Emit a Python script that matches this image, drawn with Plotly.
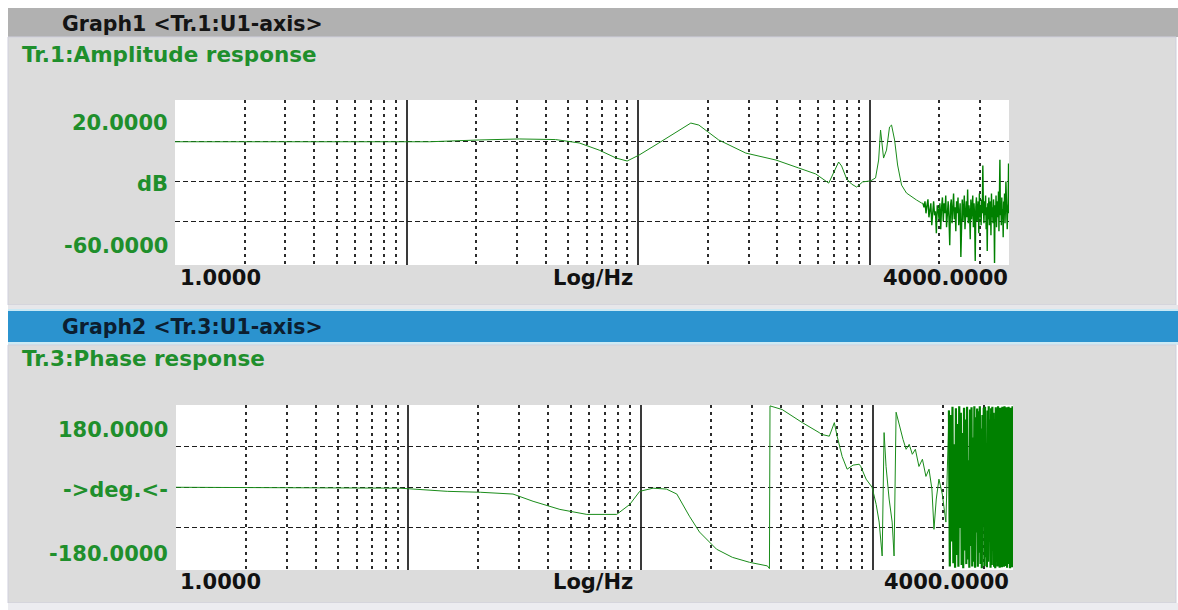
import numpy as np
import plotly.graph_objects as go

W, H = 1178, 610

# ---- Tr.1: amplitude response (dB over log frequency) ----
amp_freq = [1, 3, 10, 12.6, 20.6, 30.7, 44, 55.7, 67.9, 80.4, 89.7, 101, 123, 150, 169,
            183, 223, 292, 394, 494, 585, 666, 707, 735, 757, 796, 836, 879, 933, 1009,
            1061, 1094, 1115, 1149, 1183, 1219, 1244, 1282, 1321, 1374, 1443, 1517,
            1594, 1675]
amp_db = [0.0, 0.0, 0.0, 0.0, 0.9, 1.4, 1.1, -0.6, -4.2, -8.2, -9.7, -6.7, -0.6, 5.4, 9.4,
          8.4, 0.9, -5.7, -9.2, -13.2, -16.2, -20.8, -14.2, -10.2, -12.2, -18.7, -21.3,
          -22.8, -20.2, -19.7, -18.2, -9.2, 5.9, -8.2, -4.2, 7.4, 8.4, 0.9, -11.7, -21.8,
          -25.8, -27.8, -29.3, -30.8]
# high-frequency end of the amplitude trace (measurement noise)
amp_noise_db = [-31, -33, -30, -36, -32, -29, -38, -34, -31, -42, -33, -30, -37, -35, -46,
                -32, -34, -39, -31, -44,
                -33, -28, -40, -31, -36, -27, -43, -34, -30, -38, -52, -32, -29, -41, -35,
                -26, -39, -33, -45, -30, -36, -28, -42, -34, -31, -58, -37, -29, -40, -33,
                -27, -44, -35, -30, -38, -24, -41, -32, -36, -49, -29, -39, -34, -27, -43,
                -31, -37, -60, -33, -28, -40, -35, -30, -46, -26, -38, -32, -42, -29, -36,
                -12, -34, -41, -30, -37, -27, -44, -33, -55, -31, -39, -28, -42, -35, -30,
                -47, -26, -38, -33, -41, -29, -36, -61, -32, -40, -27, -43, -34, -30, -38,
                -25, -45, -33, -9, -37, -31, -42, -28, -39, -34, -48, -30, -36, -26, -41,
                -33, -20, -38, -29, -44, -35, -31, -11, -36]
amp_noise_freq = np.linspace(1700, 4000, len(amp_noise_db))

# ---- Tr.3: phase response (deg over log frequency) ----
ph_freq = [1, 9.2, 14.7, 20.4, 28.2, 34.4, 44.9, 58.6, 78.8, 89.7, 99, 113, 129, 143, 162,
           179, 212, 248, 294, 351, 358, 360, 406, 496, 586, 600, 648, 665, 681, 700, 736,
           773, 820, 871, 885, 933, 990, 1031, 1062, 1094, 1115, 1137, 1172, 1208, 1231,
           1256, 1294, 1345, 1387, 1430, 1475, 1520, 1575, 1630, 1688, 1740, 1791, 1828,
           1870, 1920, 1985, 2057]
ph_deg = [0, -2, -9, -11, -15, -31, -49, -60, -60, -38, -9, -2, -4, -15, -64,
          -99, -137, -155, -166, -174, -180, 180, 172, 143, 121, 117, 113, 128, 143, 113, 68,
          40, 49, 51, 46, 18, 0, -38, -77, -152, 121, 46, -26, -77, -152,
          166, 139, 106, 84, 95, 73, 84, 46, 62, 24, 40, -4, -93,
          -26, 18, -15, -77]
ph_noise_deg = [170, -175, 160, -120, 178, -168, 95, -178, 175, -150, 140, -176, 179, -90,
                165, -172, 120, -179, 176, -140, 150, -170, 178, -160, 60, -178, 172, -130,
                177, -175, 110, -165, 179, -178, 155, -100, 174, -176, 168, -145, 179, -170,
                130, -179, 160, -60, 176, -174, 178, -155, 90, -177, 170, -165, 179, -120,
                150, -178, 175, -172, 178, -140, 165, -176, 40, -179, 177, -160, 172, -175,
                179, -110, 160, -178, 176, -168, 120, -177, 178, -150, 170, -176, 179, -174,
                145, -130, 177, -178, 165, -170, 178, -165, 100, -179, 176, -158, 174, -177,
                179, -150]
ph_noise_freq = np.linspace(2120, 4000, len(ph_noise_deg))

# axis texts
amp_ylabels = ["20.0000", "dB", "-60.0000"]
ph_ylabels = ["180.0000", "->deg.<-", "-180.0000"]
x_labels = ["1.0000", "Log/Hz", "4000.0000"]

decades = [10, 100, 1000]
sub_decades = [m * d for d in [1, 10, 100] for m in range(2, 10)] + [2000, 3000]

GREEN_LINE = "#1a8c1a"
GREEN_NOISE = "#008000"
GREEN_TEXT = "#1f8f2c"
FONT = "DejaVu Sans"


def px(x):
    return x / W


def py(y):
    return 1 - y / H


fig = go.Figure()


def add_line(xs, ys, xa, ya, color, width):
    fig.add_trace(go.Scatter(x=list(xs), y=list(ys), mode="lines",
                             line=dict(color=color, width=width), xaxis=xa, yaxis=ya,
                             showlegend=False, hoverinfo="skip"))


add_line(amp_freq + [amp_noise_freq[0]], amp_db + [amp_noise_db[0]], "x", "y",
         GREEN_LINE, 1)
add_line(amp_noise_freq, amp_noise_db, "x", "y", GREEN_NOISE, 1.4)
add_line(ph_freq + [ph_noise_freq[0]], ph_deg + [ph_noise_deg[0]], "x2", "y2",
         GREEN_LINE, 1)
add_line(ph_noise_freq, ph_noise_deg, "x2", "y2", GREEN_NOISE, 2.2)


def xaxis_cfg(x0, x1, anchor):
    return dict(type="log", range=[0, np.log10(4000)], domain=[px(x0), px(x1)],
                anchor=anchor, tickmode="array", tickvals=decades, showticklabels=False,
                ticks="", showgrid=True, gridcolor="#3a3a3a", gridwidth=2, zeroline=False,
                showline=False,
                minor=dict(tickmode="array", tickvals=sub_decades, showgrid=True,
                           gridcolor="#2c2c2c", gridwidth=1.5, griddash="3px,4px",
                           ticks=""))


def yaxis_cfg(y0, y1, rng, vals, anchor):
    return dict(range=rng, domain=[py(y1), py(y0)], anchor=anchor, tickmode="array",
                tickvals=vals, showticklabels=False, ticks="", showgrid=True,
                gridcolor="#1e1e1e", gridwidth=1.2, griddash="5px,3px", zeroline=False,
                showline=False)


shapes = []


def rect(x0, y0, x1, y1, fill, line=None):
    shapes.append(dict(type="rect", xref="paper", yref="paper", layer="below",
                       x0=px(x0), x1=px(x1), y0=py(y1), y1=py(y0), fillcolor=fill,
                       line=dict(width=1 if line else 0, color=line or fill)))


# window frames
rect(8, 8, 1178, 37, "#b1b1b1")
rect(8, 37, 1176, 305, "#dcdcdc", "#cfcfdc")
rect(8, 305, 1178, 310, "#e7e7ea")
rect(8, 309, 1178, 311, "#c9e9f5")
rect(8, 311, 1178, 342, "#2b93cf")
rect(8, 342, 1178, 345, "#cdeaf4")
rect(8, 345, 1176, 603, "#dcdcdc", "#cfcfdc")
rect(8, 603, 1178, 610, "#ececf0")
# plot areas
rect(175, 100, 1009, 265, "#ffffff")
rect(176, 405, 1013, 570, "#ffffff")

annotations = []


def text(s, x, y, anchor, color, size=21):
    annotations.append(dict(text="<b>" + s + "</b>", x=px(x), y=py(y), xref="paper",
                            yref="paper", xanchor=anchor, yanchor="middle",
                            showarrow=False,
                            font=dict(family=FONT, size=size, color=color)))


def esc(s):
    return s.replace("<", "&lt;").replace(">", "&gt;")


text(esc("Graph1 <Tr.1:U1-axis>"), 60, 24, "left", "#141414", 20.5)
text("Tr.1:Amplitude response", 20, 54, "left", GREEN_TEXT, 21.5)
for lbl, yy in zip(amp_ylabels, [123, 184, 246]):
    text(esc(lbl), 170, yy, "right", GREEN_TEXT)
for lbl, xx, anc in zip(x_labels, [178, 593, 1010], ["left", "center", "right"]):
    text(lbl, xx, 278, anc, "#111111")

text(esc("Graph2 <Tr.3:U1-axis>"), 60, 327, "left", "#0c1e30", 20.5)
text("Tr.3:Phase response", 20, 358, "left", GREEN_TEXT, 21.5)
for lbl, yy in zip(ph_ylabels, [430, 490, 554]):
    text(esc(lbl), 170, yy, "right", GREEN_TEXT)
for lbl, xx, anc in zip(x_labels, [178, 593, 1011], ["left", "center", "right"]):
    text(lbl, xx, 582, anc, "#111111")

fig.update_layout(
    width=W, height=H, margin=dict(l=0, r=0, t=0, b=0),
    paper_bgcolor="#ffffff", plot_bgcolor="rgba(0,0,0,0)",
    xaxis=xaxis_cfg(175, 1009, "y"),
    yaxis=yaxis_cfg(100, 265, [-62, 21], [0, -20, -40], "x"),
    xaxis2=xaxis_cfg(176, 1013, "y2"),
    yaxis2=yaxis_cfg(405, 570, [-183, 182], [90, 0, -90], "x2"),
    shapes=shapes, annotations=annotations, showlegend=False,
    font=dict(family=FONT),
)

fig.write_html("out.html")
